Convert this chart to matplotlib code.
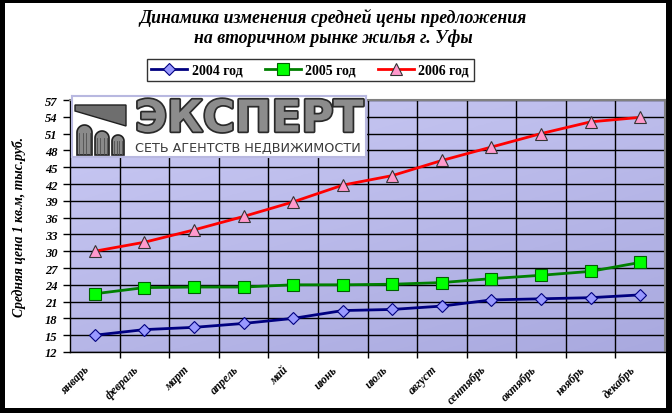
import numpy as np
import matplotlib.pyplot as plt
import matplotlib.patches as mpatches
import matplotlib.patheffects as pe
from matplotlib.colors import LinearSegmentedColormap
from matplotlib.transforms import ScaledTranslation

# data (thousand rub. per sq.m)
months = ['январь', 'февраль', 'март', 'апрель', 'май', 'июнь',
          'июль', 'август', 'сентябрь', 'октябрь', 'ноябрь', 'декабрь']
price_2004 = [15.0, 16.0, 16.4, 17.1, 18.0, 19.4, 19.6, 20.2, 21.3, 21.5, 21.7, 22.2]
price_2005 = [22.4, 23.5, 23.6, 23.6, 24.0, 24.0, 24.1, 24.4, 25.1, 25.7, 26.4, 28.0]
price_2006 = [30.0, 31.6, 33.8, 36.2, 38.8, 41.8, 43.5, 46.2, 48.6, 51.0, 53.1, 53.9]
series_names = ['2004 год', '2005 год', '2006 год']
y_ticks = list(range(12, 58, 3))

W, H = 672, 414
serif = 'Liberation Serif'

fig = plt.figure(figsize=(W / 100, H / 100), dpi=100, facecolor='black')


def px(x0, y0, x1, y1):
    # pixel box, top-left origin -> figure fraction
    return [x0 / W, 1 - y1 / H, (x1 - x0) / W, (y1 - y0) / H]


# white page inside the black frame
fig.patches.append(mpatches.Rectangle((5 / W, 1 - 409 / H), 661 / W, 405 / H,
                                      transform=fig.transFigure, facecolor='white',
                                      edgecolor='none', zorder=-5))

fig.text(333 / W, 1 - 18 / H, 'Динамика изменения средней цены предложения',
         ha='center', va='center', fontsize=12.8, fontweight='bold',
         fontstyle='italic', family=serif)
fig.text(333 / W, 1 - 38 / H, 'на вторичном рынке жилья г. Уфы',
         ha='center', va='center', fontsize=12.8, fontweight='bold',
         fontstyle='italic', family=serif)

# main plot
ax = fig.add_axes(px(70, 101, 665, 353))
x = np.arange(len(months))

gx, gy = np.meshgrid(np.linspace(0, 1, 200), np.linspace(0, 1, 100))
grad = 0.6 * gy + 0.4 * gx
cmap = LinearSegmentedColormap.from_list('bg', ['#cacaf4', '#a9a9df'])
ax.imshow(grad, extent=(-0.5, 11.5, 12, 57), origin='upper', aspect='auto',
          cmap=cmap, zorder=0, interpolation='bilinear')

ax.plot(x, price_2004, color='#000080', lw=2, marker='D', ms=6,
        mfc='#9999ff', mec='#000080', mew=0.8, label=series_names[0], zorder=3)
ax.plot(x, price_2005, color='#008000', lw=2, marker='s', ms=8,
        mfc='#00ff00', mec='#006000', mew=0.8, label=series_names[1], zorder=3)
ax.plot(x, price_2006, color='#ff0000', lw=2, marker='^', ms=9,
        mfc='#ff99cc', mec='#333333', mew=0.8, label=series_names[2], zorder=3)

ax.set_xlim(-0.5, 11.5)
ax.set_ylim(12, 57)
ax.set_yticks(y_ticks)
ax.set_yticklabels([str(v) for v in y_ticks], fontsize=9, fontweight='bold',
                   fontstyle='italic', family=serif)
ax.set_xticks(np.arange(0.5, 11, 1))
ax.set_xticklabels([])
ax.set_xticks(x, minor=True)
ax.set_xticklabels(months, minor=True, rotation=45, ha='right', va='top',
                   rotation_mode='anchor', fontsize=8.5, fontweight='bold',
                   fontstyle='italic', family=serif)
ax.tick_params(axis='x', which='major', length=4, width=1, color='black', direction='out')
ax.tick_params(axis='x', which='minor', length=0, pad=8)
ax.tick_params(axis='y', length=5, width=1, color='black', pad=4)
shift = ScaledTranslation(-11 / 100, 0, fig.dpi_scale_trans)
for lab in ax.get_xticklabels(minor=True):
    lab.set_transform(lab.get_transform() + shift)

ax.grid(True, which='major', color='black', lw=1)
for side in ['left', 'bottom']:
    ax.spines[side].set_color('black')
    ax.spines[side].set_linewidth(1)
for side in ['top', 'right']:
    ax.spines[side].set_color('#808080')
    ax.spines[side].set_linewidth(1.5)

ax.set_ylabel('Средняя цена 1 кв.м, тыс.руб.', fontsize=9.8, fontweight='bold',
              fontstyle='italic', family=serif, labelpad=14)

leg = fig.legend(loc='center', bbox_to_anchor=(310 / W, 1 - 71 / H), ncol=3,
                 frameon=True, fancybox=False, edgecolor='black',
                 prop={'family': serif, 'weight': 'bold', 'size': 10},
                 handlelength=2.6, handletextpad=0.3, columnspacing=1.6,
                 borderpad=0.35)
leg.get_frame().set_linewidth(1)

# company logo pasted over the upper left of the plot
lg = fig.add_axes(px(72, 97, 366, 158))
lg.set_xlim(0, 294)
lg.set_ylim(61, 0)
lg.set_facecolor('white')
lg.set_xticks([])
lg.set_yticks([])
for s in lg.spines.values():
    s.set_color('#b8b8e0')
    s.set_linewidth(1.5)

lg.add_patch(mpatches.Polygon([(3, 9), (54, 9), (54, 30), (3, 15)], closed=True,
                              facecolor='#6e6e6e', edgecolor='#202020', lw=1))


def arch(x0, x1, ytop, ybot):
    r = (x1 - x0) / 2
    t = np.linspace(np.pi, 0, 30)
    xs = list(x0 + r + r * np.cos(t)) + [x1, x0]
    ys = list(ytop + r - r * np.sin(t)) + [ybot, ybot]
    lg.add_patch(mpatches.Polygon(list(zip(xs, ys)), closed=True,
                                  facecolor='#8a8a8a', edgecolor='#202020', lw=1.2))
    for k in np.linspace(x0 + 2, x1 - 2, 4):
        lg.plot([k, k], [ytop + r, ybot - 1], color='#505050', lw=0.6)


arch(5, 20, 29, 59)
arch(23, 37, 35, 59)
arch(40, 52, 39, 59)

lg.text(63, 23, 'ЭКСПЕРТ', ha='left', va='center', fontsize=31.5, fontweight='bold',
        family='DejaVu Sans', color='#8c8c8c',
        path_effects=[pe.withStroke(linewidth=2.5, foreground='#2a2a2a')])
lg.text(63, 51, 'СЕТЬ АГЕНТСТВ НЕДВИЖИМОСТИ', ha='left', va='center',
        fontsize=9.2, family='DejaVu Sans', color='#3a3a3a')

fig.savefig('out.png', dpi=100, facecolor=fig.get_facecolor())
